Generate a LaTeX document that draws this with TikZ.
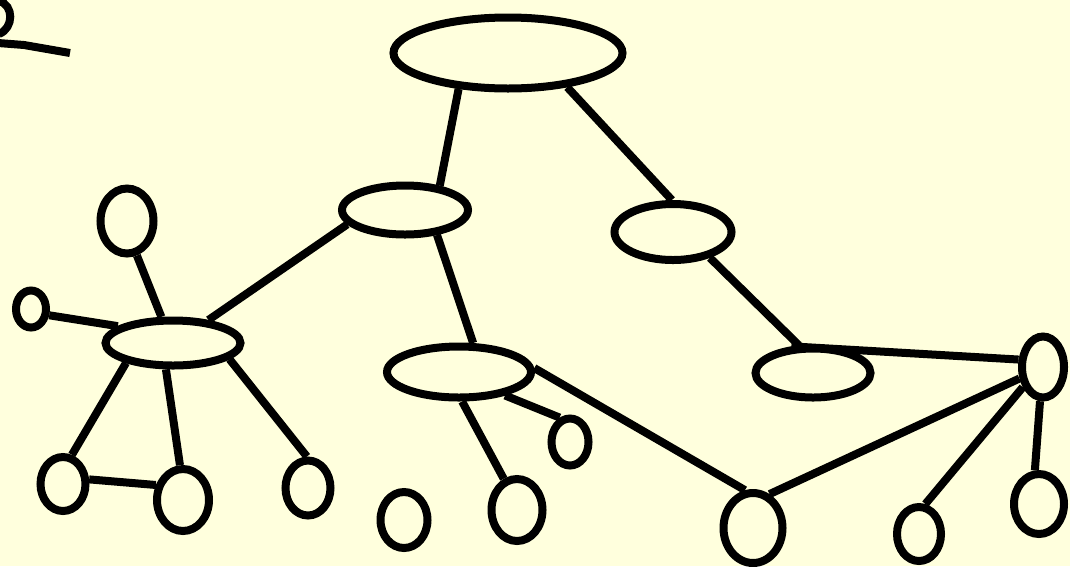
\documentclass[tikz,border=0pt]{standalone}
\usetikzlibrary{shapes.geometric}
\definecolor{bgyellow}{RGB}{255,255,221}
\tikzset{
  bub/.style={ellipse, draw=black, line width=8pt, inner sep=0pt},
  link/.style={draw=black, line width=8pt},
}
\begin{document}
\begin{tikzpicture}[x=1pt, y=-1pt]
\fill[bgyellow] (0,0) rectangle (1070,566);
\useasboundingbox (0,0) rectangle (1070,566);
\begin{scope}
\clip (0,0) rectangle (1070,566);
% fragment at top-left
\coordinate (f1) at (-1,1);
\coordinate (f2) at (-1,34);
\coordinate (f3) at (-2,43);
\coordinate (f4) at (70,53);
\draw[link] (f1) .. controls (14,5) and (14,28) .. (f2);
\draw[link] (f3) -- (24,45) -- (f4);

% nodes
\node[bub, minimum width=229pt, minimum height=71pt] (top) at (508,53) {};
\node[bub, minimum width=126pt, minimum height=49pt] (A) at (405,210) {};
\node[bub, minimum width=117pt, minimum height=56pt] (B) at (673,232) {};
\node[bub, minimum width=135pt, minimum height=45pt] (C) at (173,343) {};
\node[bub, minimum width=144pt, minimum height=51pt] (D) at (459,372) {};
\node[bub, minimum width=115pt, minimum height=49pt] (E) at (813,373) {};
\node[bub, minimum width=42pt, minimum height=61pt] (F) at (1043,367) {};
\node[bub, minimum width=59pt, minimum height=70pt] (G) at (753,528) {};
\node[bub, minimum width=44pt, minimum height=54pt] (H) at (919,534) {};
\node[bub, minimum width=50pt, minimum height=60pt] (I) at (1039,504) {};
\node[bub, minimum width=37pt, minimum height=47pt] (J) at (570,442) {};
\node[bub, minimum width=51pt, minimum height=62pt] (K) at (517,510) {};
\node[bub, minimum width=47pt, minimum height=56pt] (L) at (404,520) {};
\node[bub, minimum width=53pt, minimum height=65pt] (M) at (127,221) {};
\node[bub, minimum width=30pt, minimum height=37pt] (N) at (31,309) {};
\node[bub, minimum width=45pt, minimum height=54pt] (O) at (63,484) {};
\node[bub, minimum width=52pt, minimum height=62pt] (P) at (183,500) {};
\node[bub, minimum width=45pt, minimum height=55pt] (Q) at (308,488) {};

% connectors
\draw[link] (top.216) -- (A.35);
\draw[link] (top.330) -- (B.92);
\draw[link] (A.194) -- (C.33);
\draw[link] (A.322) -- (D.64);
\draw[link] (B.325) -- (E.117);
\draw[link] (E.129) -- (F.163);
\draw[link] (F.206) -- (G.64);
\draw[link] (F.225) -- (H.78);
\draw[link] (F.265) -- (I.97);
\draw[link] (D.3) -- (G.102);
\draw[link] (D.333) -- (J.113);
\draw[link] (D.276) -- (K.113);
\draw[link] (C.114) -- (M.286);
\draw[link] (N.341) -- (C.163);
\draw[link] (C.203) -- (O.73);
\draw[link] (C.255) -- (P.95);
\draw[link] (C.344) -- (Q.92);
\draw[link] (O.10) -- (P.151);
\end{scope}
\end{tikzpicture}
\end{document}
